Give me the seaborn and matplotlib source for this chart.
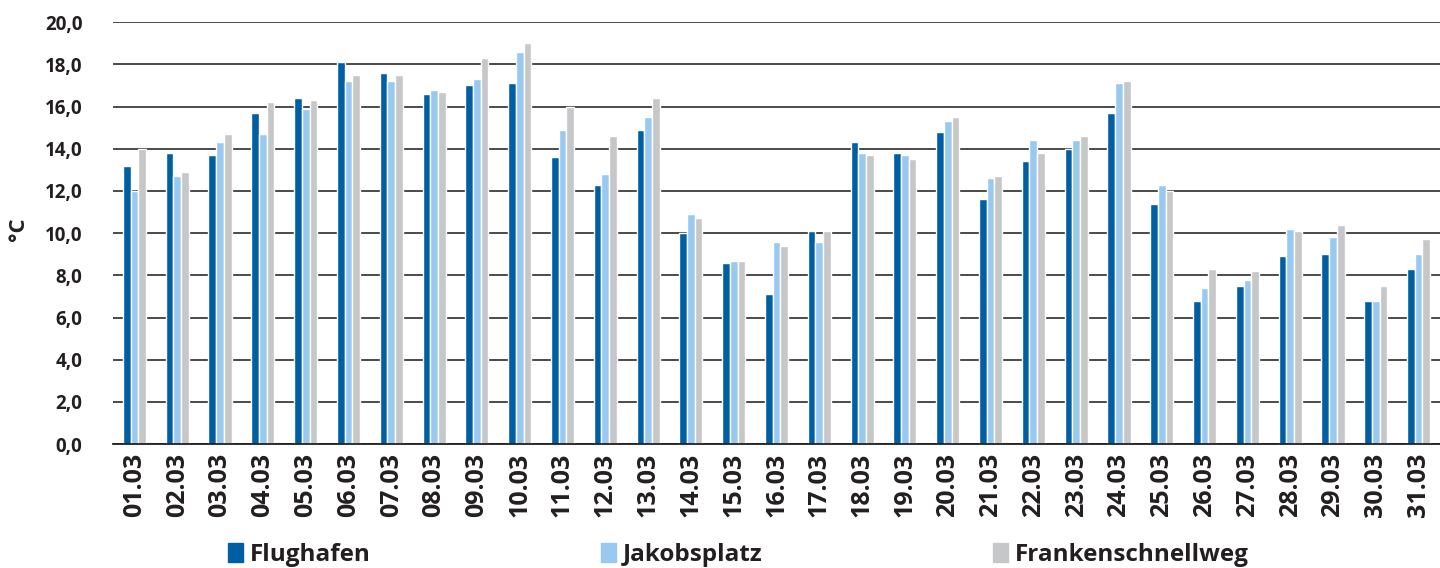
import pandas as pd
import seaborn as sns
import matplotlib.pyplot as plt
from matplotlib.ticker import FuncFormatter, MultipleLocator

# Daily mean temperatures in March (°C) at three stations
dates = [f"{d:02d}.03" for d in range(1, 32)]
flughafen = [13.2, 13.8, 13.7, 15.7, 16.4, 18.1, 17.6, 16.6, 17.0, 17.1,
             13.6, 12.3, 14.9, 10.0, 8.6, 7.1, 10.1, 14.3, 13.8, 14.8,
             11.6, 13.4, 14.0, 15.7, 11.4, 6.8, 7.5, 8.9, 9.0, 6.8, 8.3]
jakobsplatz = [12.0, 12.7, 14.3, 14.7, 15.9, 17.2, 17.2, 16.8, 17.3, 18.6,
               14.9, 12.8, 15.5, 10.9, 8.7, 9.6, 9.6, 13.8, 13.7, 15.3,
               12.6, 14.4, 14.4, 17.1, 12.3, 7.4, 7.8, 10.2, 9.8, 6.8, 9.0]
frankenschnellweg = [14.0, 12.9, 14.7, 16.2, 16.3, 17.5, 17.5, 16.7, 18.3, 19.0,
                     16.0, 14.6, 16.4, 10.7, 8.7, 9.4, 10.1, 13.7, 13.5, 15.5,
                     12.7, 13.8, 14.6, 17.2, 12.0, 8.3, 8.2, 10.1, 10.4, 7.5, 9.7]
stations = ["Flughafen", "Jakobsplatz", "Frankenschnellweg"]
colors = ["#005fa3", "#99c9ef", "#c6c7c9"]

df = pd.DataFrame({
    "date": dates * 3,
    "temp": flughafen + jakobsplatz + frankenschnellweg,
    "station": [stations[0]] * 31 + [stations[1]] * 31 + [stations[2]] * 31,
})

sns.set_style("white")
plt.rcParams["font.family"] = ["Open Sans", "DejaVu Sans"]
plt.rcParams["font.weight"] = "bold"
text_color = "#231f20"

fig = plt.figure(figsize=(14.4, 5.68), dpi=100)
ax = fig.add_axes([0.0785, 0.218, 0.9215, 0.743])

sns.barplot(data=df, x="date", y="temp", hue="station", palette=colors,
            width=0.54, saturation=1, ax=ax, legend=False)

ax.set_ylim(0, 20)
ax.set_xlim(-0.5, 30.5)
ax.yaxis.set_major_locator(MultipleLocator(2))
ax.yaxis.set_major_formatter(FuncFormatter(lambda v, p: f"{v:.1f}".replace(".", ",")))
ax.grid(axis="y", color="#3c3c3c", linewidth=1.3)
ax.set_axisbelow(True)
for s in ["top", "right", "left"]:
    ax.spines[s].set_visible(False)
ax.spines["bottom"].set_color(text_color)
ax.spines["bottom"].set_linewidth(1.3)

# category boundaries as tick marks, labels rotated
ax.set_xticks([i - 0.5 for i in range(32)], minor=True)
ax.tick_params(axis="x", which="minor", length=8, width=1.2, color=text_color, direction="out")
ax.tick_params(axis="x", which="major", length=0, pad=6)
ax.tick_params(axis="y", length=0, pad=22)
plt.setp(ax.get_xticklabels(), rotation=90, fontsize=18, fontweight="bold", color=text_color)
plt.setp(ax.get_yticklabels(), fontsize=13.5, fontweight="bold", color=text_color)

ax.set_xlabel("")
ax.set_ylabel("°C", fontsize=16, fontweight="bold", color=text_color)
ax.yaxis.set_label_coords(-0.063, 0.51)

handles = [plt.Rectangle((0, 0), 1, 1, color=c) for c in colors]
fig.legend(handles, stations, loc="lower left", bbox_to_anchor=(0.143, -0.037),
           ncol=3, frameon=False, columnspacing=9.45, handlelength=0.62,
           handleheight=0.85, handletextpad=0.3,
           prop={"size": 17.5, "weight": "bold"}, labelcolor=text_color)

fig.savefig("out.png", dpi=100)
